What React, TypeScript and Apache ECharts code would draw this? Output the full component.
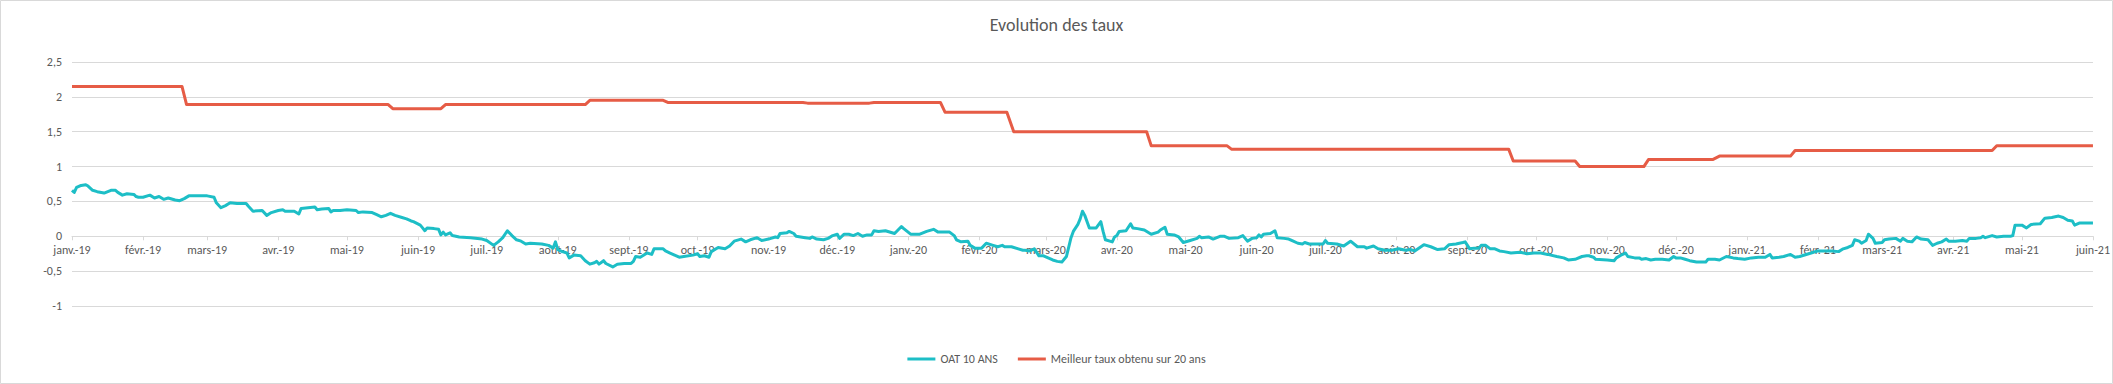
import React, { useEffect, useRef } from "react";
import * as echarts from "echarts";

const TITLE = "Evolution des taux";
const SERIES_OAT = "OAT 10 ANS";
const SERIES_BEST = "Meilleur taux obtenu sur 20 ans";
const MONTHS = ["janv.", "févr.", "mars", "avr.", "mai", "juin", "juil.", "août", "sept.", "oct.", "nov.", "déc."];
const Y_TICKS_MIN = -1;
const Y_TICKS_MAX = 2.5;
const Y_TICK_STEP = 0.5;
const X_START = "2019-01-01";
const X_END = "2021-06-01";

const oatDates = [
  "2019-01-01","2019-01-02","2019-01-03","2019-01-05","2019-01-07","2019-01-08","2019-01-10","2019-01-12","2019-01-15","2019-01-18",
  "2019-01-20","2019-01-21","2019-01-23","2019-01-25","2019-01-28","2019-01-29","2019-01-30","2019-02-01","2019-02-04","2019-02-06",
  "2019-02-08","2019-02-10","2019-02-12","2019-02-15","2019-02-17","2019-02-19","2019-02-21","2019-02-25","2019-03-01","2019-03-04",
  "2019-03-05","2019-03-07","2019-03-09","2019-03-11","2019-03-14","2019-03-18","2019-03-19","2019-03-21","2019-03-25","2019-03-27",
  "2019-03-29","2019-04-01","2019-04-03","2019-04-04","2019-04-08","2019-04-10","2019-04-11","2019-04-14","2019-04-17","2019-04-18",
  "2019-04-20","2019-04-23","2019-04-24","2019-04-25","2019-04-28","2019-05-01","2019-05-05",
  "2019-05-06","2019-05-08","2019-05-12","2019-05-14","2019-05-16","2019-05-18","2019-05-20","2019-05-22","2019-05-25","2019-05-27",
  "2019-05-29","2019-05-30","2019-06-02","2019-06-03","2019-06-04","2019-06-05","2019-06-08","2019-06-10","2019-06-11","2019-06-12",
  "2019-06-13","2019-06-15","2019-06-16","2019-06-19","2019-06-24","2019-06-29","2019-07-01","2019-07-04","2019-07-06","2019-07-08",
  "2019-07-10","2019-07-12","2019-07-14","2019-07-16","2019-07-18","2019-07-20","2019-07-25","2019-07-28","2019-07-30","2019-07-31",
  "2019-08-01","2019-08-03","2019-08-05","2019-08-06","2019-08-08","2019-08-11","2019-08-13","2019-08-15","2019-08-17","2019-08-18",
  "2019-08-19","2019-08-21","2019-08-22","2019-08-25","2019-08-27","2019-08-30","2019-09-02","2019-09-03","2019-09-04","2019-09-06",
  "2019-09-09","2019-09-11","2019-09-12","2019-09-14","2019-09-16","2019-09-17","2019-09-19","2019-09-21","2019-09-23","2019-09-25",
  "2019-09-29","2019-10-01","2019-10-02","2019-10-04","2019-10-06","2019-10-07","2019-10-10","2019-10-13","2019-10-15","2019-10-17",
  "2019-10-20","2019-10-22","2019-10-24","2019-10-27","2019-10-29","2019-11-01","2019-11-02","2019-11-04","2019-11-05","2019-11-06",
  "2019-11-09","2019-11-10","2019-11-12","2019-11-13","2019-11-17","2019-11-19","2019-11-20","2019-11-22","2019-11-25","2019-11-27",
  "2019-11-29","2019-12-01","2019-12-02","2019-12-04","2019-12-06","2019-12-08","2019-12-10","2019-12-12","2019-12-14","2019-12-16",
  "2019-12-17","2019-12-19","2019-12-22","2019-12-26","2019-12-29","2019-12-30","2020-01-02","2020-01-06","2020-01-09","2020-01-12",
  "2020-01-14","2020-01-16","2020-01-19","2020-01-21","2020-01-22","2020-01-24","2020-01-27","2020-01-28","2020-01-30","2020-02-02",
  "2020-02-04","2020-02-07","2020-02-09","2020-02-11","2020-02-12","2020-02-15","2020-02-18","2020-02-20","2020-02-21","2020-02-23",
  "2020-02-25","2020-02-27","2020-02-29","2020-03-02","2020-03-04","2020-03-06","2020-03-08","2020-03-09","2020-03-10","2020-03-12",
  "2020-03-13","2020-03-15","2020-03-16","2020-03-17","2020-03-18","2020-03-20","2020-03-23","2020-03-25","2020-03-26","2020-03-27",
  "2020-03-30","2020-03-31","2020-04-01","2020-04-02","2020-04-05","2020-04-07","2020-04-08","2020-04-10","2020-04-13","2020-04-16",
  "2020-04-19","2020-04-20","2020-04-22","2020-04-23","2020-04-26","2020-04-28","2020-04-30","2020-05-03","2020-05-06","2020-05-07",
  "2020-05-08","2020-05-11","2020-05-13","2020-05-16","2020-05-18","2020-05-20","2020-05-24","2020-05-26","2020-05-28","2020-05-30",
  "2020-06-01","2020-06-02","2020-06-03","2020-06-04","2020-06-07","2020-06-09","2020-06-10","2020-06-13","2020-06-15","2020-06-17",
  "2020-06-19","2020-06-21","2020-06-22","2020-06-24","2020-06-28","2020-06-30","2020-07-01","2020-07-02","2020-07-06","2020-07-09",
  "2020-07-12","2020-07-15","2020-07-18","2020-07-19","2020-07-22","2020-07-24","2020-07-27","2020-07-30","2020-08-02","2020-08-05",
  "2020-08-07","2020-08-09","2020-08-13","2020-08-16","2020-08-19","2020-08-22","2020-08-24","2020-08-27","2020-08-30","2020-08-31",
  "2020-09-02","2020-09-04","2020-09-06","2020-09-07","2020-09-09","2020-09-11","2020-09-13","2020-09-15","2020-09-17","2020-09-20",
  "2020-09-24","2020-09-27","2020-09-30","2020-10-03","2020-10-06","2020-10-10","2020-10-13","2020-10-15","2020-10-18","2020-10-21",
  "2020-10-23","2020-10-24","2020-10-26","2020-10-27","2020-11-01","2020-11-04","2020-11-05","2020-11-07","2020-11-09","2020-11-10",
  "2020-11-13","2020-11-15","2020-11-16","2020-11-18","2020-11-20","2020-11-22","2020-11-25","2020-11-28","2020-11-30","2020-12-01",
  "2020-12-03","2020-12-05","2020-12-07","2020-12-10","2020-12-14","2020-12-15","2020-12-18","2020-12-20","2020-12-23","2020-12-26",
  "2020-12-28","2020-12-31","2021-01-03","2021-01-06","2021-01-09","2021-01-11","2021-01-12","2021-01-15","2021-01-17","2021-01-20",
  "2021-01-22","2021-01-24","2021-01-29","2021-02-01","2021-02-05","2021-02-07","2021-02-10","2021-02-12","2021-02-14","2021-02-16",
  "2021-02-17","2021-02-19","2021-02-20","2021-02-22","2021-02-23","2021-02-25","2021-02-26","2021-03-01","2021-03-02","2021-03-04",
  "2021-03-07","2021-03-09","2021-03-10","2021-03-12","2021-03-14","2021-03-16","2021-03-18","2021-03-21","2021-03-23","2021-03-25",
  "2021-03-27","2021-03-29","2021-03-30","2021-04-02","2021-04-05","2021-04-07","2021-04-08","2021-04-11","2021-04-13","2021-04-14",
  "2021-04-15","2021-04-18","2021-04-20","2021-04-23","2021-04-26","2021-04-27","2021-04-28","2021-05-01","2021-05-03","2021-05-05",
  "2021-05-09","2021-05-11","2021-05-14","2021-05-17","2021-05-19","2021-05-21","2021-05-23","2021-05-24","2021-05-26","2021-05-29",
  "2021-06-01"
];

const oatValues = [
  0.66,0.63,0.70,0.73,0.74,0.72,0.66,0.64,0.62,0.66,
  0.66,0.63,0.59,0.61,0.60,0.57,0.56,0.56,0.59,0.55,
  0.57,0.53,0.55,0.52,0.51,0.54,0.58,0.58,0.58,0.56,
  0.48,0.41,0.44,0.48,0.47,0.47,0.43,0.36,0.37,0.30,
  0.34,0.37,0.38,0.36,0.36,0.32,0.40,0.41,0.42,0.38,
  0.39,0.40,0.35,0.37,0.37,0.38,0.37,
  0.34,0.35,0.34,0.31,0.28,0.30,0.33,0.30,0.27,0.25,
  0.22,0.21,0.16,0.12,0.08,0.12,0.11,0.10,0.02,0.06,
  0.02,0.05,0.01,-0.01,-0.02,-0.04,-0.06,-0.13,-0.08,-0.02,
  0.08,0.01,-0.05,-0.07,-0.11,-0.10,-0.11,-0.13,-0.17,-0.08,
  -0.19,-0.22,-0.24,-0.31,-0.27,-0.28,-0.35,-0.40,-0.38,-0.36,
  -0.40,-0.35,-0.39,-0.44,-0.40,-0.39,-0.39,-0.36,-0.29,-0.30,
  -0.24,-0.26,-0.18,-0.18,-0.18,-0.21,-0.24,-0.27,-0.30,-0.29,
  -0.27,-0.25,-0.29,-0.28,-0.30,-0.22,-0.16,-0.18,-0.14,-0.07,
  -0.04,-0.08,-0.05,-0.02,-0.06,-0.04,-0.03,-0.01,-0.02,0.04,
  0.05,0.07,0.04,0.00,-0.02,-0.03,-0.01,-0.04,-0.05,-0.03,
  0.01,0.03,-0.03,0.03,0.03,0.01,0.04,0.00,0.02,0.02,
  0.08,0.07,0.08,0.04,0.14,0.11,0.03,0.03,0.07,0.10,
  0.06,0.06,0.06,0.01,-0.05,-0.08,-0.07,-0.13,-0.17,-0.17,
  -0.10,-0.13,-0.15,-0.13,-0.15,-0.15,-0.18,-0.20,-0.20,-0.21,
  -0.18,-0.28,-0.28,-0.31,-0.34,-0.36,-0.37,-0.33,-0.29,-0.02,
  0.07,0.17,0.25,0.36,0.30,0.12,0.12,0.21,0.07,-0.05,
  -0.08,-0.01,0.01,0.07,0.08,0.18,0.12,0.11,0.09,0.03,
  0.06,0.09,0.13,0.03,0.02,-0.01,-0.09,-0.06,-0.03,0.00,
  -0.02,-0.01,-0.04,0.00,0.00,-0.03,-0.02,0.01,-0.07,-0.03,
  -0.02,0.02,-0.01,0.03,0.04,0.08,-0.02,-0.03,-0.04,-0.07,
  -0.10,-0.11,-0.09,-0.11,-0.11,-0.11,-0.06,-0.10,-0.11,-0.14,
  -0.07,-0.15,-0.15,-0.17,-0.14,-0.18,-0.20,-0.20,-0.18,-0.20,
  -0.19,-0.21,-0.12,-0.15,-0.19,-0.18,-0.12,-0.11,-0.09,-0.08,
  -0.18,-0.17,-0.17,-0.13,-0.13,-0.18,-0.18,-0.21,-0.22,-0.24,
  -0.23,-0.25,-0.24,-0.24,-0.26,-0.29,-0.31,-0.34,-0.33,-0.29,
  -0.28,-0.28,-0.30,-0.33,-0.34,-0.35,-0.31,-0.27,-0.24,-0.29,
  -0.31,-0.31,-0.33,-0.32,-0.34,-0.33,-0.33,-0.34,-0.29,-0.31,
  -0.31,-0.33,-0.35,-0.37,-0.37,-0.33,-0.33,-0.34,-0.29,-0.31,
  -0.32,-0.33,-0.31,-0.30,-0.30,-0.26,-0.31,-0.30,-0.29,-0.26,
  -0.30,-0.29,-0.24,-0.21,-0.21,-0.21,-0.22,-0.18,-0.16,-0.13,
  -0.05,-0.07,-0.10,-0.06,0.03,-0.03,-0.10,-0.09,-0.05,-0.04,
  -0.03,-0.07,-0.03,-0.07,-0.08,-0.01,-0.04,-0.05,-0.13,-0.10,
  -0.08,-0.04,-0.07,-0.07,-0.06,-0.07,-0.03,-0.03,-0.02,0.00,
  -0.02,0.01,-0.01,0.00,0.00,0.01,0.16,0.16,0.12,0.17,
  0.18,0.26,0.27,0.29,0.27,0.23,0.22,0.16,0.19,0.19,
  0.19
];

const bestDates = [
  "2019-01-01","2019-02-18","2019-02-20","2019-05-19","2019-05-21","2019-06-11","2019-06-13","2019-08-13","2019-08-15","2019-09-16",
  "2019-09-18","2019-11-16","2019-11-18","2019-12-15","2019-12-17","2020-01-15","2020-01-17","2020-02-13","2020-02-16","2020-04-14",
  "2020-04-16","2020-05-19","2020-05-21","2020-09-19","2020-09-21","2020-10-18","2020-10-20","2020-11-17","2020-11-19","2020-12-17",
  "2020-12-20","2021-01-20","2021-01-22","2021-04-18","2021-04-20","2021-06-01"
];

const bestValues = [
  2.15,2.15,1.89,1.89,1.83,1.83,1.89,1.89,1.95,1.95,
  1.92,1.92,1.91,1.91,1.92,1.92,1.78,1.78,1.50,1.50,
  1.30,1.30,1.25,1.25,1.08,1.08,1.00,1.00,1.10,1.10,
  1.15,1.15,1.23,1.23,1.30,1.30
];

const FONT = "Carlito, Lato, 'Open Sans', sans-serif";
const TEXT_COLOR = "#595959";
const GRID_COLOR = "#d9d9d9";
const OAT_COLOR = "#1DBEC6";
const BEST_COLOR = "#E65C46";

const GRID_TOP = 62;
const GRID_BOTTOM = 78;
const CHART_H = 384;

export default function App() {
  const ref = useRef<HTMLDivElement>(null);

  useEffect(() => {
    document.body.style.margin = "0";
    if (!ref.current) return;
    const chart = echarts.init(ref.current, null, { renderer: "svg" });

    const oatData = oatDates.map((d, i) => [d, oatValues[i]]);
    const bestData = bestDates.map((d, i) => [d, bestValues[i]]);
    const DAY = 24 * 3600 * 1000;
    // Excel places the category axis where the value axis crosses 0
    const plotH = CHART_H - GRID_TOP - GRID_BOTTOM;
    const zeroOffset = -plotH * (0 - Y_TICKS_MIN) / (Y_TICKS_MAX - Y_TICKS_MIN);

    chart.setOption({
      animation: false,
      backgroundColor: "#ffffff",
      textStyle: { fontFamily: FONT },
      graphic: [
        {
          type: "rect",
          shape: { x: 0.5, y: 0.5, width: 2112, height: 383 },
          style: { fill: "none", stroke: GRID_COLOR, lineWidth: 1 },
          silent: true,
        },
      ],
      title: {
        text: TITLE,
        left: "center",
        top: 11,
        textStyle: { fontFamily: FONT, fontSize: 18, fontWeight: "normal", color: TEXT_COLOR },
      },
      legend: {
        bottom: 14,
        left: "center",
        itemWidth: 28,
        itemHeight: 3,
        itemGap: 20,
        icon: "rect",
        textStyle: { fontFamily: FONT, fontSize: 12, color: TEXT_COLOR },
        data: [SERIES_OAT, SERIES_BEST],
      },
      grid: { left: 72, right: 12, top: GRID_TOP, bottom: GRID_BOTTOM, containLabel: false },
      xAxis: {
        type: "time",
        min: X_START,
        max: X_END,
        splitNumber: 29,
        minInterval: 28 * DAY,
        maxInterval: 31 * DAY,
        position: "bottom",
        offset: zeroOffset,
        axisLine: { onZero: false, lineStyle: { color: GRID_COLOR, width: 1 } },
        axisTick: { show: true, length: 4, lineStyle: { color: GRID_COLOR } },
        splitLine: { show: false },
        axisLabel: {
          color: TEXT_COLOR,
          fontSize: 12,
          fontFamily: FONT,
          margin: 8,
          showMinLabel: true,
          showMaxLabel: true,
          hideOverlap: false,
          formatter: (val: number) => {
            const d = new Date(val);
            return MONTHS[d.getMonth()] + "-" + String(d.getFullYear()).slice(2);
          },
        },
      },
      yAxis: {
        type: "value",
        min: Y_TICKS_MIN,
        max: Y_TICKS_MAX,
        interval: Y_TICK_STEP,
        axisLine: { show: false },
        axisTick: { show: false },
        splitLine: { lineStyle: { color: GRID_COLOR, width: 1 } },
        axisLabel: {
          color: TEXT_COLOR,
          fontSize: 12,
          fontFamily: FONT,
          margin: 10,
          formatter: (v: number) => String(v).replace(".", ","),
        },
      },
      series: [
        {
          name: SERIES_OAT,
          type: "line",
          data: oatData,
          showSymbol: false,
          symbol: "none",
          lineStyle: { color: OAT_COLOR, width: 3, join: "round" },
          itemStyle: { color: OAT_COLOR },
          z: 3,
        },
        {
          name: SERIES_BEST,
          type: "line",
          data: bestData,
          showSymbol: false,
          symbol: "none",
          lineStyle: { color: BEST_COLOR, width: 3, join: "round" },
          itemStyle: { color: BEST_COLOR },
          z: 2,
        },
      ],
    });

    return () => chart.dispose();
  }, []);

  return <div ref={ref} style={{ width: 2113, height: 384 }} />;
}
